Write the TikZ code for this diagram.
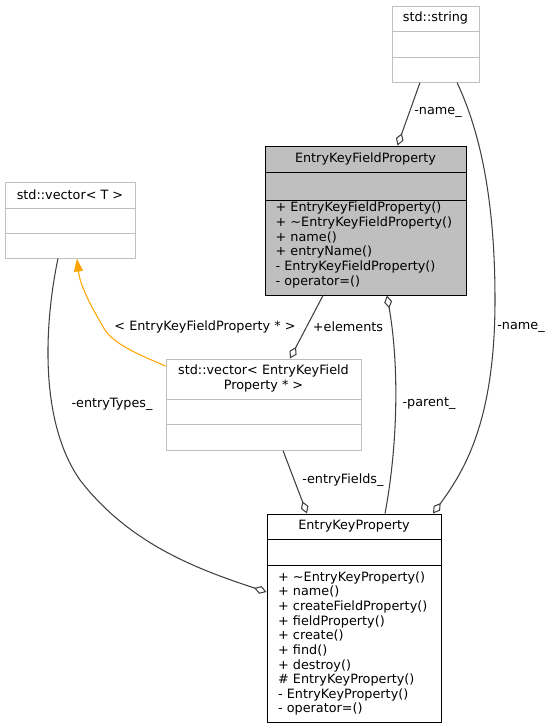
\documentclass[tikz,border=0pt]{standalone}
\usepackage{fontspec}
\setmainfont{DejaVu Sans}
\usetikzlibrary{arrows.meta}
\definecolor{boxgray}{HTML}{BFBFBF}
\definecolor{edgegray}{HTML}{404040}
\definecolor{lightframe}{HTML}{BFBFBF}
\definecolor{tmplorange}{HTML}{FFA500}
\begin{document}
\begin{tikzpicture}[x=1pt,y=-1pt,
 font=\fontsize{12.8}{14.65}\selectfont,
 cls/.style={rectangle, inner sep=0pt, line width=1pt},
 mainbox/.style={cls, draw=black, fill=boxgray},
 plainbox/.style={cls, draw=black, fill=white},
 extbox/.style={cls, draw=lightframe, fill=white},
 ttl/.style={inner sep=0pt, anchor=center, align=center},
 mem/.style={inner sep=0pt, anchor=west, align=left},
 lbl/.style={inner sep=0pt, anchor=center},
 agg/.style={draw=edgegray, line width=1.05pt, -{Diamond[open,length=13pt,width=8pt]}},
 aggstart/.style={draw=edgegray, line width=1.05pt, {Diamond[open,length=13pt,width=8pt]}-},
 inst/.style={draw=tmplorange, line width=1.05pt, -{Triangle[length=13pt,width=9pt,fill=tmplorange]}}
]
\useasboundingbox (0,0) rectangle (551,728);

% std::string
\node[extbox, minimum width=87pt, minimum height=76pt] (str) at (435.5,44) {};
\draw[lightframe, line width=1pt] (str.west |- 0,31) -- (str.east |- 0,31);
\draw[lightframe, line width=1pt] (str.west |- 0,57) -- (str.east |- 0,57);
\node[ttl] (strt) at (435.5,18) {std::string};

% EntryKeyFieldProperty
\node[mainbox, minimum width=201pt, minimum height=149pt] (ekfp) at (365.5,220.5) {};
\draw[black, line width=1pt] (ekfp.west |- 0,172) -- (ekfp.east |- 0,172);
\draw[black, line width=1pt] (ekfp.west |- 0,200) -- (ekfp.east |- 0,200);
\node[ttl] (ekfpt) at (365.5,158.5) {EntryKeyFieldProperty};
\node[mem] (ekfpm) at (275.5,245) {+ EntryKeyFieldProperty()\\+ \textasciitilde EntryKeyFieldProperty()\\+ name()\\+ entryName()\\- EntryKeyFieldProperty()\\- operator=()};

% std::vector< T >
\node[extbox, minimum width=130pt, minimum height=76pt] (vec1) at (70,220) {};
\draw[lightframe, line width=1pt] (vec1.west |- 0,208) -- (vec1.east |- 0,208);
\draw[lightframe, line width=1pt] (vec1.west |- 0,233) -- (vec1.east |- 0,233);
\node[ttl] (vec1t) at (70,195) {std::vector< T >};

% std::vector< EntryKeyFieldProperty * >
\node[extbox, minimum width=195pt, minimum height=91pt] (vec2) at (263.5,404.5) {};
\draw[lightframe, line width=1pt] (vec2.west |- 0,399) -- (vec2.east |- 0,399);
\draw[lightframe, line width=1pt] (vec2.west |- 0,424) -- (vec2.east |- 0,424);
\node[ttl] (vec2t) at (263.5,378.5) {std::vector< EntryKeyField\\Property * >};

% EntryKeyProperty
\node[plainbox, minimum width=174pt, minimum height=208pt] (ekp) at (354,618) {};
\draw[black, line width=1pt] (ekp.west |- 0,539) -- (ekp.east |- 0,539);
\draw[black, line width=1pt] (ekp.west |- 0,565) -- (ekp.east |- 0,565);
\node[ttl] (ekpt) at (354,526.5) {EntryKeyProperty};
\node[mem] (ekpm) at (278,643.5) {+ \textasciitilde EntryKeyProperty()\\+ name()\\+ createFieldProperty()\\+ fieldProperty()\\+ create()\\+ find()\\+ destroy()\\\# EntryKeyProperty()\\- EntryKeyProperty()\\- operator=()};

% edges
\draw[agg] ([xshift=-15.5pt]str.south) -- ([xshift=32pt]ekfp.north);
\node[lbl] (l1) at (438,112) {-name\_};

\draw[agg] ([xshift=21.5pt]str.south) .. controls (477,125) and (495,190) .. (495,300)
  .. controls (495,420) and (465,470) .. ([xshift=79pt]ekp.north);
\node[lbl] (l2) at (521,327) {-name\_};

\draw[agg] ([xshift=-42.5pt]ekfp.south) -- ([xshift=26.5pt]vec2.north);
\node[lbl] (l3) at (348,327) {+elements};

\draw[aggstart] ([xshift=21.5pt]ekfp.south) .. controls (400,370) and (397,450) .. ([xshift=31pt]ekp.north);
\node[lbl] (l4) at (429,404) {-parent\_};

\draw[agg] ([xshift=19.5pt]vec2.south) -- ([xshift=-47pt]ekp.north);
\node[lbl] (l5) at (343,480) {-entryFields\_};

\draw[agg] ([xshift=-12pt]vec1.south) .. controls (45,320) and (38,420) .. (80,480)
  .. controls (130,545) and (200,570) .. ([yshift=26pt]ekp.west);
\node[lbl] (l6) at (112,404) {-entryTypes\_};

\draw[inst] ([yshift=38.5pt]vec2.west) .. controls (140,355) and (115,345) .. (105,330)
  .. controls (90,305) and (80,285) .. ([xshift=7pt]vec1.south);
\node[lbl] (l7) at (205,327) {< EntryKeyFieldProperty * >};
\end{tikzpicture}
\end{document}
